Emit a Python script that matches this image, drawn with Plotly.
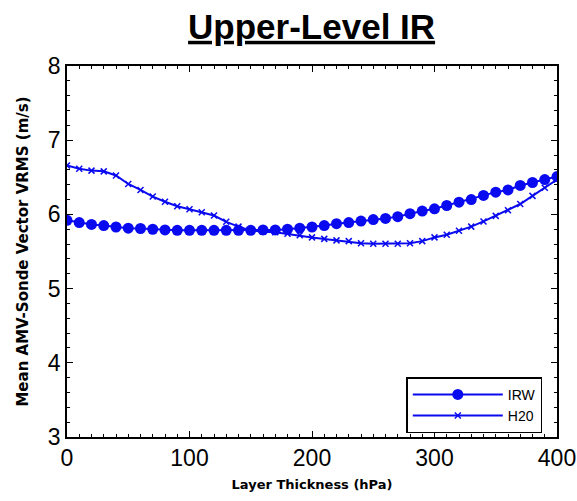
import plotly.graph_objects as go

thickness = list(range(0, 410, 10))
irw = [5.92, 5.89, 5.865, 5.85, 5.83, 5.815, 5.81, 5.80, 5.79, 5.785, 5.785,
       5.785, 5.785, 5.785, 5.785, 5.785, 5.79, 5.79, 5.80, 5.815, 5.83,
       5.85, 5.875, 5.89, 5.91, 5.93, 5.945, 5.97, 6.01, 6.045, 6.075,
       6.12, 6.165, 6.20, 6.255, 6.30, 6.33, 6.39, 6.43, 6.47, 6.51]
h20 = [6.66, 6.615, 6.59, 6.58, 6.525, 6.41, 6.33, 6.24, 6.17, 6.11, 6.07,
       6.03, 5.985, 5.90, 5.835, 5.785, 5.765, 5.76, 5.74, 5.72, 5.69,
       5.67, 5.65, 5.64, 5.61, 5.605, 5.605, 5.605, 5.61, 5.64, 5.69,
       5.725, 5.78, 5.835, 5.905, 5.98, 6.055, 6.14, 6.25, 6.36, 6.47]
xticks = [0, 100, 200, 300, 400]
yticks = [3, 4, 5, 6, 7, 8]

blue = "#0a0af0"
fig = go.Figure()
fig.add_trace(go.Scatter(x=thickness, y=irw, name="IRW", mode="lines+markers",
                         line=dict(color=blue, width=2),
                         marker=dict(symbol="circle", size=11, color=blue)))
fig.add_trace(go.Scatter(x=thickness, y=h20, name="H20", mode="lines+markers",
                         line=dict(color=blue, width=2),
                         marker=dict(symbol="x-thin", size=6,
                                     line=dict(color=blue, width=1.5), color=blue)))

axis_common = dict(showline=True, linecolor="black", linewidth=1.5, mirror="ticks",
                   ticks="inside", ticklen=6, tickcolor="black", showgrid=False,
                   zeroline=False, automargin=False,
                   tickfont=dict(family="Liberation Sans, Arial", size=23, color="black"))
fig.update_xaxes(range=[0, 400], tickvals=xticks, **axis_common,
                 minor=dict(ticks="inside", dtick=10, ticklen=3, tickcolor="black"),
                 title=dict(text="<b>Layer Thickness (hPa)</b>", standoff=10,
                            font=dict(family="DejaVu Sans, Liberation Sans", size=13, color="black")))
fig.update_yaxes(range=[3, 8], tickvals=yticks, **axis_common,
                 minor=dict(ticks="inside", dtick=0.2, ticklen=3, tickcolor="black"),
                 title=dict(text="<b>Mean AMV-Sonde Vector VRMS (m/s)</b>", standoff=16,
                            font=dict(family="DejaVu Sans, Liberation Sans", size=15, color="black")))

fig.update_layout(
    width=577, height=501,
    margin=dict(l=67, r=20, t=66, b=64),
    paper_bgcolor="white", plot_bgcolor="white",
    title=dict(text="<b><u>Upper-Level IR</u></b>", x=0.54, xanchor="center",
               y=0.947, yanchor="middle",
               font=dict(family="Liberation Sans, Arial", size=35, color="black")),
    legend=dict(x=0.97, y=0.01, xanchor="right", yanchor="bottom",
                bgcolor="white", bordercolor="black", borderwidth=1.5,
                font=dict(family="Liberation Sans, Arial", size=14, color="black"),
                itemwidth=90, tracegroupgap=0),
    showlegend=True,
)
fig.write_html("out.html")
